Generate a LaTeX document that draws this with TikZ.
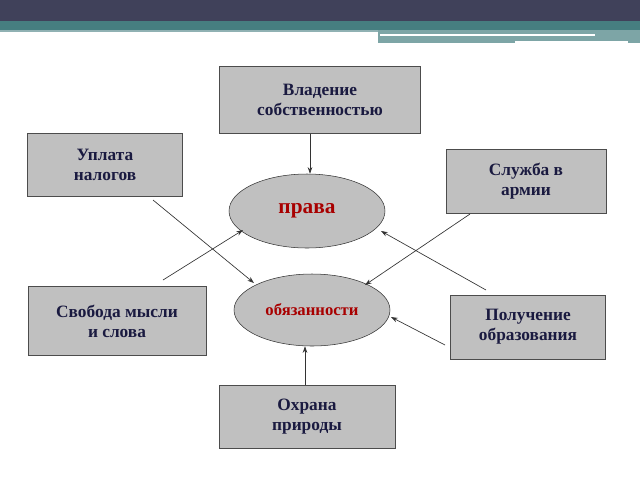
\documentclass[tikz,border=0pt]{standalone}
\usepackage{fontspec}
\setmainfont{Liberation Serif}
\usetikzlibrary{shapes.geometric,arrows.meta}
\definecolor{dark}{HTML}{40415A}
\definecolor{teal1}{HTML}{467E80}
\definecolor{boxg}{HTML}{C0C0C0}
\definecolor{txt}{HTML}{1A1A40}
\definecolor{redt}{HTML}{A80000}
\begin{document}
\begin{tikzpicture}[x=0.75pt,y=-0.75pt,
  bx/.style={draw=black!70,fill=boxg,inner sep=0pt,align=center,font=\fontsize{13}{15}\selectfont\bfseries,text=txt},
  el/.style={ellipse,draw=black!80,fill=boxg,inner sep=0pt,font=\bfseries,text=redt},
  ar/.style={-{Stealth[length=5pt,width=3.5pt]},black!80,line width=0.5pt}]
\useasboundingbox (0,0) rectangle (640,480);
\fill[dark] (0,0) rectangle (640,21);
\fill[teal1] (0,21) rectangle (640,30);
\fill[teal1!60] (0,30) rectangle (378,32);
\fill[teal1!70] (378,30) rectangle (640,43);
\draw[white,line width=1pt] (380,35) -- (595,35);
\draw[white,line width=1pt] (515,42) -- (628,42);
\node[bx,minimum width=0.75*201pt,minimum height=0.75*67pt] (vl) at (320,100) {Владение\\собственностью};
\node[bx,minimum width=0.75*155pt,minimum height=0.75*63pt] (up) at (105,165) {Уплата\\налогов};
\node[bx,minimum width=0.75*160pt,minimum height=0.75*64pt] (sl) at (526,181) {Служба в\\армии};
\node[bx,minimum width=0.75*178pt,minimum height=0.75*69pt] (sv) at (117,321) {Свобода мысли\\и слова};
\node[bx,minimum width=0.75*155pt,minimum height=0.75*64pt] (po) at (528,327) {Получение\\образования};
\node[bx,minimum width=0.75*176pt,minimum height=0.75*63pt] (oh) at (307,417) {Охрана\\природы};
\node[el,minimum width=0.75*156pt,minimum height=0.75*74pt,font=\fontsize{16}{19}\selectfont\bfseries] (pr) at (307,211) {права};
\node[el,minimum width=0.75*156pt,minimum height=0.75*72pt,font=\fontsize{12.5}{15}\selectfont\bfseries] (ob) at (312,310) {обязанности};
\coordinate (a1) at (153,200); \coordinate (a2) at (163,280);
\coordinate (a3) at (470,214); \coordinate (a4) at (486,290);
\coordinate (a5) at (445,345);
\coordinate (t1) at (254,283); \coordinate (t2) at (243,230);
\coordinate (t3) at (365,285); \coordinate (t4) at (381,231);
\coordinate (t5) at (391,317);
\draw[ar] (vl.south -| 310,0) -- (pr.north -| 310,0);
\draw[ar] (a1) -- (t1);
\draw[ar] (a2) -- (t2);
\draw[ar] (a3) -- (t3);
\draw[ar] (a4) -- (t4);
\draw[ar] (a5) -- (t5);
\draw[ar] (oh.north -| 305,0) -- (ob.south -| 305,0);
\end{tikzpicture}
\end{document}
